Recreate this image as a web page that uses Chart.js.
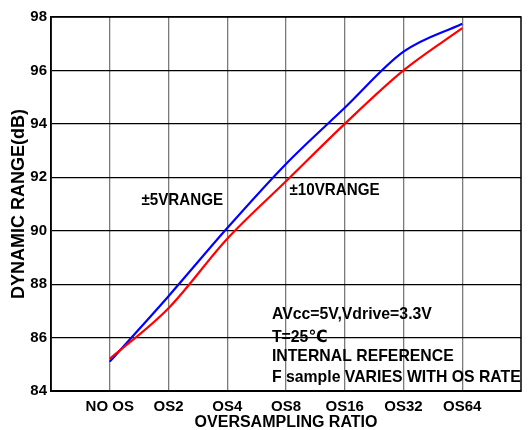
<!DOCTYPE html>
<html>
<head>
<meta charset="utf-8">
<script src="https://cdn.jsdelivr.net/npm/chart.js@4.4.1/dist/chart.umd.min.js"></script>
<style>
  html, body { margin: 0; padding: 0; background: #fff; }
  #c { display: block; }
</style>
</head>
<body>
<canvas id="c" width="528" height="430"></canvas>
<script>
// Oversampling ratio categories and dynamic range (dB) for each input range
const ratioLabels = ['NO OS', 'OS2', 'OS4', 'OS8', 'OS16', 'OS32', 'OS64'];
const range5V  = [85.1, 87.55, 90.1, 92.5, 94.6, 96.7, 97.75];
const range10V = [85.2, 87.1, 89.7, 91.85, 94.0, 96.0, 97.58];
const yTicks = [84, 86, 88, 90, 92, 94, 96, 98];
const seriesNames = ['\u00b15VRANGE', '\u00b110VRANGE'];
const noteLines = ['AVcc=5V,Vdrive=3.3V', 'T=25\u2103', 'INTERNAL REFERENCE', 'F sample VARIES WITH OS RATE'];

const FONT = "'Liberation Sans', Arial, 'DejaVu Sans', sans-serif";
Chart.defaults.font.family = FONT;
Chart.defaults.color = '#000';

const toPoints = arr => arr.map((v, i) => ({ x: i, y: v }));

// draws text slightly condensed horizontally
function condensedText(ctx, text, x, y, squeeze) {
  ctx.save();
  ctx.translate(x, y);
  ctx.scale(squeeze, 1);
  ctx.fillText(text, 0, 0);
  ctx.restore();
}

// frame + in-plot text labels
const framePlugin = {
  id: 'frameAndNotes',
  afterDatasetsDraw(chart) {
    const { ctx, chartArea: a, scales: { x, y } } = chart;
    ctx.save();
    ctx.strokeStyle = '#000';
    ctx.lineWidth = 1.5;
    ctx.strokeRect(a.left, a.top, a.right - a.left, a.bottom - a.top);

    ctx.fillStyle = '#000';
    ctx.textAlign = 'left';
    ctx.textBaseline = 'middle';
    ctx.font = 'bold 16.5px ' + FONT;
    condensedText(ctx, seriesNames[0], x.getPixelForValue(0.54), y.getPixelForValue(91.15), 0.92);
    condensedText(ctx, seriesNames[1], x.getPixelForValue(3.06), y.getPixelForValue(91.49), 0.92);

    ctx.font = 'bold 17px ' + FONT;
    const nx = x.getPixelForValue(2.76);
    const ny = y.getPixelForValue(86.86);
    const gaps = [0, 23, 42, 63];
    noteLines.forEach((t, i) => condensedText(ctx, t, nx, ny + gaps[i], 0.93));
    ctx.restore();
  }
};

new Chart(document.getElementById('c'), {
  type: 'line',
  data: {
    datasets: [
      {
        label: seriesNames[1],
        data: toPoints(range10V),
        borderColor: '#ff0000',
        borderWidth: 2.2,
        pointRadius: 0,
        cubicInterpolationMode: 'monotone',
        fill: false
      },
      {
        label: seriesNames[0],
        data: toPoints(range5V),
        borderColor: '#0000ff',
        borderWidth: 2.2,
        pointRadius: 0,
        cubicInterpolationMode: 'monotone',
        fill: false
      }
    ]
  },
  options: {
    responsive: false,
    animation: false,
    layout: { padding: { top: 17, right: 1, left: 0, bottom: 0 } },
    plugins: { legend: { display: false }, tooltip: { enabled: false } },
    scales: {
      x: {
        type: 'linear',
        min: -1,
        max: 7,
        afterFit(s) { s.height = 39; },
        afterBuildTicks(s) { s.ticks = [-1, 0, 1, 2, 3, 4, 5, 6, 7].map(v => ({ value: v })); },
        ticks: {
          autoSkip: false,
          maxRotation: 0,
          padding: 7,
          font: { size: 15, weight: 'bold' },
          callback: v => ratioLabels[v] ?? ''
        },
        grid: {
          drawTicks: false,
          lineWidth: 1.3,
          color: c => (c.tick && c.tick.value >= 0 && c.tick.value <= 6) ? '#7a7a7a' : 'rgba(0,0,0,0)'
        },
        border: { color: '#000', width: 2 },
        title: {
          display: true,
          text: 'OVERSAMPLING RATIO',
          font: { size: 16, weight: 'bold' },
          padding: { top: 0, bottom: -2 }
        }
      },
      y: {
        min: 84,
        max: 98,
        afterFit(s) { s.width = 51; },
        afterBuildTicks(s) { s.ticks = yTicks.map(v => ({ value: v })); },
        ticks: {
          padding: 4,
          font: { size: 15, weight: 'bold' }
        },
        grid: { drawTicks: false, color: '#000', lineWidth: 1.2 },
        border: { color: '#000', width: 1.5 },
        title: {
          display: true,
          text: 'DYNAMIC RANGE(dB)',
          font: { size: 18, weight: 'bold' },
          padding: { top: 8, bottom: 0 }
        }
      }
    }
  },
  plugins: [framePlugin]
});
</script>
</body>
</html>
